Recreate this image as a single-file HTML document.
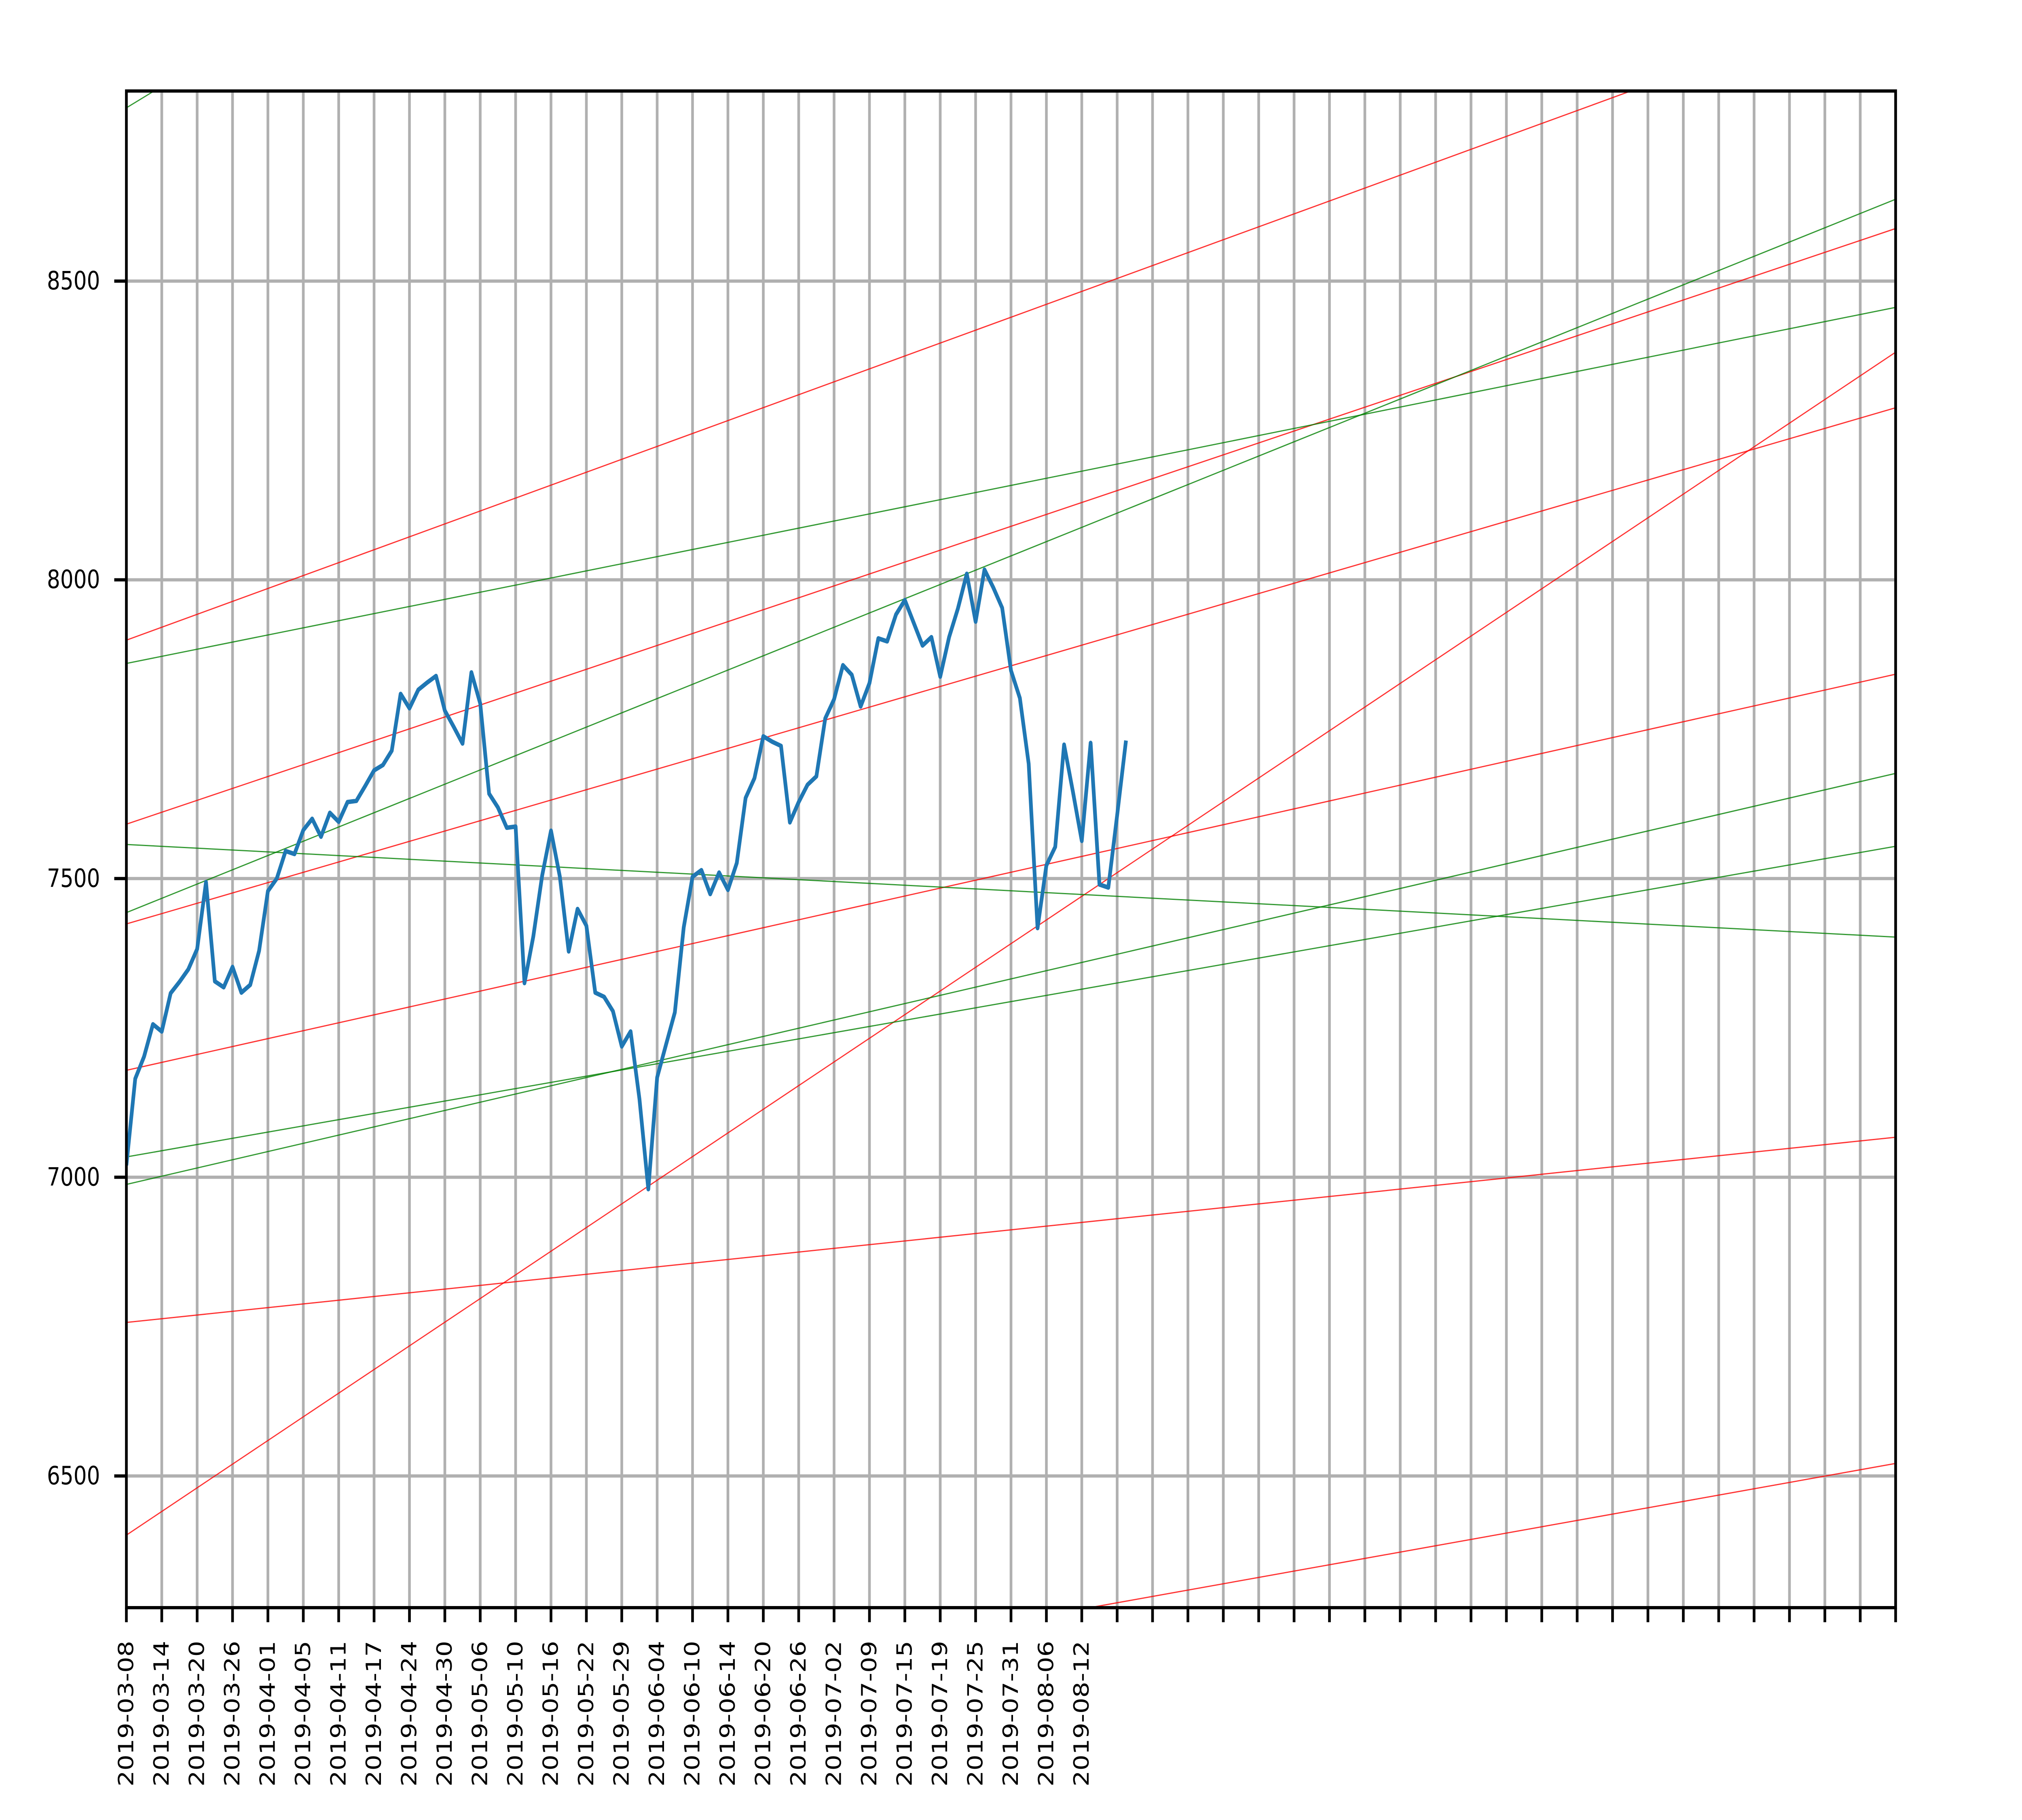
<!DOCTYPE html>
<html><head><meta charset="utf-8">
<style>
html,body{margin:0;padding:0;background:#fff;width:100%;height:100%;overflow:hidden;}
svg{display:block;position:absolute;left:0;top:0;}
text{font-family:"DejaVu Sans","Liberation Sans",sans-serif;}
</style></head>
<body>
<svg id="chart" width="100%" height="100%" viewBox="0 0 6000 4500" preserveAspectRatio="none" xmlns="http://www.w3.org/2000/svg">
<defs><clipPath id="plotclip"><rect x="375" y="225" width="5250" height="3750"/></clipPath></defs>
<rect x="0" y="0" width="6000" height="4500" fill="#fff"/>
<g id="grid"></g>
<g id="lines" clip-path="url(#plotclip)"></g>
<g id="axes"></g>
</svg>
<script>
const prices = [7020,7165,7202,7256,7244,7308,7327,7348,7382,7494,7328,7318,7352,7309,7322,7379,7479,7500,7546,7541,
7581,7600,7570,7610,7595,7628,7630,7655,7681,7690,7714,7809,7785,7816,7828,7839,7781,7754,7726,7845,
7793,7642,7619,7585,7587,7325,7403,7505,7580,7503,7378,7449,7421,7309,7302,7278,7219,7244,7131,6980,
7167,7222,7276,7418,7503,7514,7474,7510,7481,7526,7635,7668,7738,7729,7722,7594,7628,7657,7671,7768,
7800,7857,7841,7788,7827,7902,7897,7942,7966,7928,7890,7904,7838,7904,7952,8010,7930,8017,7987,7953,
7848,7802,7692,7417,7522,7553,7724,7645,7563,7727,7490,7485,7606,7731];
const redStart = [7899,7591,7424,7179,6757,6401,5991];
const redEnd   = [8980,8588,8288,7842,7067,8381,6521];
const greenStart = [8790,7860,7443,7557,7034,6988];
const greenEnd   = [10590,8456,8637,7402,7554,7676];
const yTicks = [6500,7000,7500,8000,8500];
const xTickLabels = ["2019-03-08","2019-03-14","2019-03-20","2019-03-26","2019-04-01","2019-04-05","2019-04-11","2019-04-17","2019-04-24","2019-04-30","2019-05-06","2019-05-10","2019-05-16","2019-05-22","2019-05-29","2019-06-04","2019-06-10","2019-06-14","2019-06-20","2019-06-26","2019-07-02","2019-07-09","2019-07-15","2019-07-19","2019-07-25","2019-07-31","2019-08-06","2019-08-12"];

const NS="http://www.w3.org/2000/svg";
const L=375,R=5625,T=225,B=3975;
const XMAX=200, TICKSTEP=4, NTICKS=51;
function xs(i){return L+(i/XMAX)*(R-L);}
function ys(v){return 695+(8500-v)*1.4772;}
function mk(tag,attrs,parent){const e=document.createElementNS(NS,tag);for(const k in attrs)e.setAttribute(k,attrs[k]);parent.appendChild(e);return e;}
const grid=document.getElementById('grid'),lines=document.getElementById('lines'),axes=document.getElementById('axes');

for(let t=0;t<NTICKS;t++){
  const x=xs(t*TICKSTEP);
  const g=mk('line',{x1:x,x2:x,y1:T,y2:B,stroke:'#b0b0b0','stroke-width':8},grid);
  
  
  const tk=mk('line',{x1:x,x2:x,y1:B,y2:B+36,stroke:'#000','stroke-width':8},axes);
  
  
  if(t<xTickLabels.length){
    const tx=mk('text',{transform:`translate(${x},4057) rotate(-90)`,'text-anchor':'end','dominant-baseline':'central','font-size':62,fill:'#000'},axes);
    tx.textContent=xTickLabels[t];
    
    
  }
}
yTicks.forEach(v=>{
  const y=ys(v);
  const g=mk('line',{x1:L,x2:R,y1:y,y2:y,stroke:'#b0b0b0','stroke-width':8},grid);
  
  
  const tk=mk('line',{x1:L-36,x2:L,y1:y,y2:y,stroke:'#000','stroke-width':8},axes);
  
  
  const tx=mk('text',{x:297,y:y,'text-anchor':'end','dominant-baseline':'central','font-size':62,fill:'#000'},axes);
  tx.textContent=String(v);
  
  
});

redStart.forEach((s,k)=>{
  const ln=mk('line',{x1:xs(0),y1:ys(s),x2:xs(XMAX),y2:ys(redEnd[k]),stroke:'#ff0000','stroke-width':3,'stroke-opacity':0.8},lines);
  
  
});
greenStart.forEach((s,k)=>{
  const ln=mk('line',{x1:xs(0),y1:ys(s),x2:xs(XMAX),y2:ys(greenEnd[k]),stroke:'#008000','stroke-width':3,'stroke-opacity':0.8},lines);
  
  
});
const pts=prices.map((v,i)=>xs(i).toFixed(1)+','+ys(v).toFixed(1)).join(' ');
const pl=mk('polyline',{points:pts,fill:'none',stroke:'#1f77b4','stroke-width':11,'stroke-linejoin':'round','stroke-linecap':'butt'},lines);



const sp=mk('rect',{x:L,y:T,width:R-L,height:B-T,fill:'none',stroke:'#000','stroke-width':8},axes);


</script>
</body></html>
